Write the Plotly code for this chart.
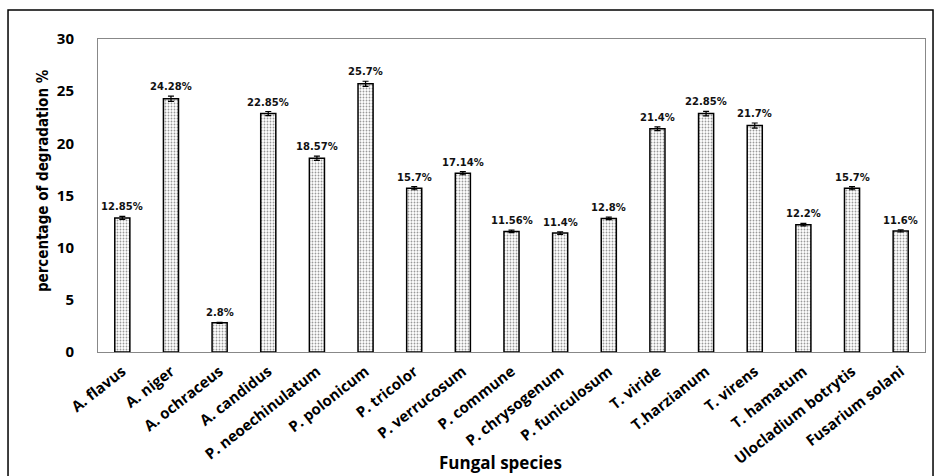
import plotly.graph_objects as go

categories = ["A. flavus", "A. niger", "A. ochraceus", "A. candidus", "P. neoechinulatum",
              "P. polonicum", "P. tricolor", "P. verrucosum", "P. commune", "P. chrysogenum",
              "P. funiculosum", "T. viride", "T.harzianum", "T. virens", "T. hamatum",
              "Ulocladium botrytis", "Fusarium solani"]
values = [12.85, 24.28, 2.8, 22.85, 18.57, 25.7, 15.7, 17.14, 11.56, 11.4, 12.8,
          21.4, 22.85, 21.7, 12.2, 15.7, 11.6]
errors = [0.15, 0.25, 0.05, 0.2, 0.2, 0.25, 0.15, 0.15, 0.12, 0.12, 0.12,
          0.18, 0.22, 0.25, 0.12, 0.15, 0.1]
labels = ["12.85%", "24.28%", "2.8%", "22.85%", "18.57%", "25.7%", "15.7%", "17.14%",
          "11.56%", "11.4%", "12.8%", "21.4%", "22.85%", "21.7%", "12.2%", "15.7%", "11.6%"]
y_ticks = [0, 5, 10, 15, 20, 25, 30]

fig = go.Figure()
fig.add_trace(go.Bar(
    x=categories, y=values,
    width=0.31,
    marker=dict(color="white", line=dict(color="black", width=1.5),
                pattern=dict(shape=".", fgcolor="#333333", bgcolor="white", size=3, solidity=0.3)),
    error_y=dict(type="data", array=errors, visible=True, color="black", thickness=1.2, width=3),
    showlegend=False,
))

for c, v, e, t in zip(categories, values, errors, labels):
    fig.add_annotation(x=c, y=v + e, text="<b>" + t + "</b>", showarrow=False,
                       yanchor="bottom", yshift=2,
                       font=dict(family="DejaVu Sans", size=10, color="#111111"))

fig.add_annotation(xref="paper", yref="paper", x=0.487, y=-0.352, text="<b>Fungal species</b>",
                   showarrow=False, xanchor="center", yanchor="middle",
                   font=dict(family="Open Sans", size=17, color="black"))
fig.add_annotation(xref="paper", yref="paper", x=-0.0665, y=0.546,
                   text="<b>percentage of degradation %</b>", textangle=-90,
                   showarrow=False, xanchor="center", yanchor="middle",
                   font=dict(family="DejaVu Sans Condensed", size=15, color="black"))

fig.add_shape(type="rect", xref="paper", yref="paper", x0=-0.1088, x1=1.0097, y0=-0.40, y1=1.0927,
              line=dict(color="black", width=1.5), fillcolor="rgba(0,0,0,0)", layer="below")

fig.update_layout(
    width=935, height=476,
    margin=dict(l=98, r=10, t=39, b=124, autoexpand=False),
    plot_bgcolor="white", paper_bgcolor="white",
    xaxis=dict(showline=True, linecolor="#888888", linewidth=1, mirror=True,
               tickangle=-38, ticks="", automargin=False, ticklabelstandoff=4,
               tickfont=dict(family="Open Sans", size=15, color="black", weight="bold")),
    yaxis=dict(range=[0, 30], tickvals=y_ticks, showline=True, linecolor="#888888", linewidth=1,
               mirror=True, showgrid=False, zeroline=False, ticks="", automargin=False,
               tickfont=dict(family="Open Sans", size=15, color="black", weight="bold"),
               ticklabelstandoff=20),
)

fig.write_html("out.html", config={"displayModeBar": False},
               post_script="document.body.style.margin='0';document.body.style.overflow='hidden';")
